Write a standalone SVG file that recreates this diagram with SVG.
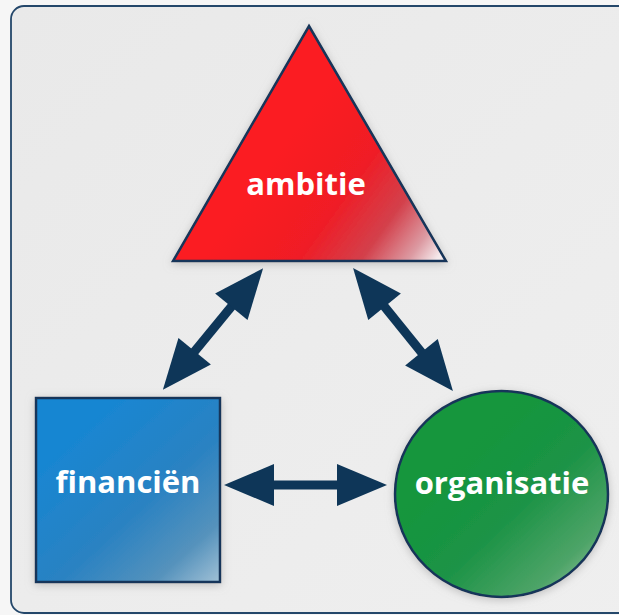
<svg xmlns="http://www.w3.org/2000/svg" width="619" height="615" viewBox="0 0 619 615">
  <style>
    .label { font-family: "Open Sans", "DejaVu Sans", sans-serif; font-weight: 700; font-size: 31px; fill: #ffffff; text-anchor: middle; }
    .outline { stroke: #14365a; stroke-width: 2.5; stroke-linejoin: miter; }
    .conn { stroke: #0e3658; stroke-width: 9; fill: none; marker-start: url(#head); marker-end: url(#head); }
  </style>
  <defs>
    <marker id="head" markerUnits="userSpaceOnUse" markerWidth="60" markerHeight="50" refX="0" refY="21" orient="auto-start-reverse" overflow="visible">
      <path d="M-2,0 L48,21 L-2,42 Z" fill="#0e3658"/>
    </marker>
    <linearGradient id="bg" x1="0" y1="0" x2="1" y2="1">
      <stop offset="0" stop-color="#e9e9e9"/>
      <stop offset="1" stop-color="#efefef"/>
    </linearGradient>
    <linearGradient id="red" gradientUnits="userSpaceOnUse" x1="280" y1="150" x2="435" y2="262">
      <stop offset="0" stop-color="#fb1b22"/>
      <stop offset="0.4" stop-color="#f01c25"/>
      <stop offset="0.68" stop-color="#d3404b"/>
      <stop offset="0.88" stop-color="#dc9aa2"/>
      <stop offset="1" stop-color="#f6eaec"/>
    </linearGradient>
    <linearGradient id="blue" gradientUnits="userSpaceOnUse" x1="80" y1="430" x2="225" y2="590">
      <stop offset="0" stop-color="#1886d2"/>
      <stop offset="0.45" stop-color="#2a82c2"/>
      <stop offset="0.75" stop-color="#5592bc"/>
      <stop offset="1" stop-color="#b0cadb"/>
    </linearGradient>
    <linearGradient id="green" gradientUnits="userSpaceOnUse" x1="460" y1="450" x2="600" y2="600">
      <stop offset="0" stop-color="#13963c"/>
      <stop offset="0.4" stop-color="#1c9346"/>
      <stop offset="0.75" stop-color="#4ea468"/>
      <stop offset="1" stop-color="#a4cbae"/>
    </linearGradient>
    <filter id="shadow" x="-20%" y="-20%" width="140%" height="140%">
      <feDropShadow dx="0" dy="2" stdDeviation="4" flood-color="#9a9a9a" flood-opacity="0.55"/>
    </filter>
  </defs>

  <rect x="0" y="0" width="619" height="615" fill="#f6f6f6"/>
  <rect id="panel" x="11" y="6" width="660" height="607" rx="13" fill="url(#bg)" stroke="#24476a" stroke-width="1.8"/>

  <g id="connectors">
    <line class="conn" x1="193.4" y1="352.8" x2="232.6" y2="305.2"/>
    <line class="conn" x1="383.3" y1="305.2" x2="422.7" y2="353.8"/>
    <line class="conn" x1="272" y1="485" x2="339" y2="485"/>
  </g>

  <g id="ambitie">
    <polygon class="outline" points="309,26 446,261 173,261" fill="url(#red)" filter="url(#shadow)"/>
    <text class="label" x="306" y="195">ambitie</text>
  </g>

  <g id="financien">
    <rect class="outline" x="36" y="398" width="184" height="184" fill="url(#blue)" filter="url(#shadow)"/>
    <text class="label" x="128" y="493">financiën</text>
  </g>

  <g id="organisatie">
    <ellipse class="outline" cx="501.5" cy="494" rx="106.5" ry="103" fill="url(#green)" filter="url(#shadow)"/>
    <text class="label" x="502" y="494">organisatie</text>
  </g>
</svg>
